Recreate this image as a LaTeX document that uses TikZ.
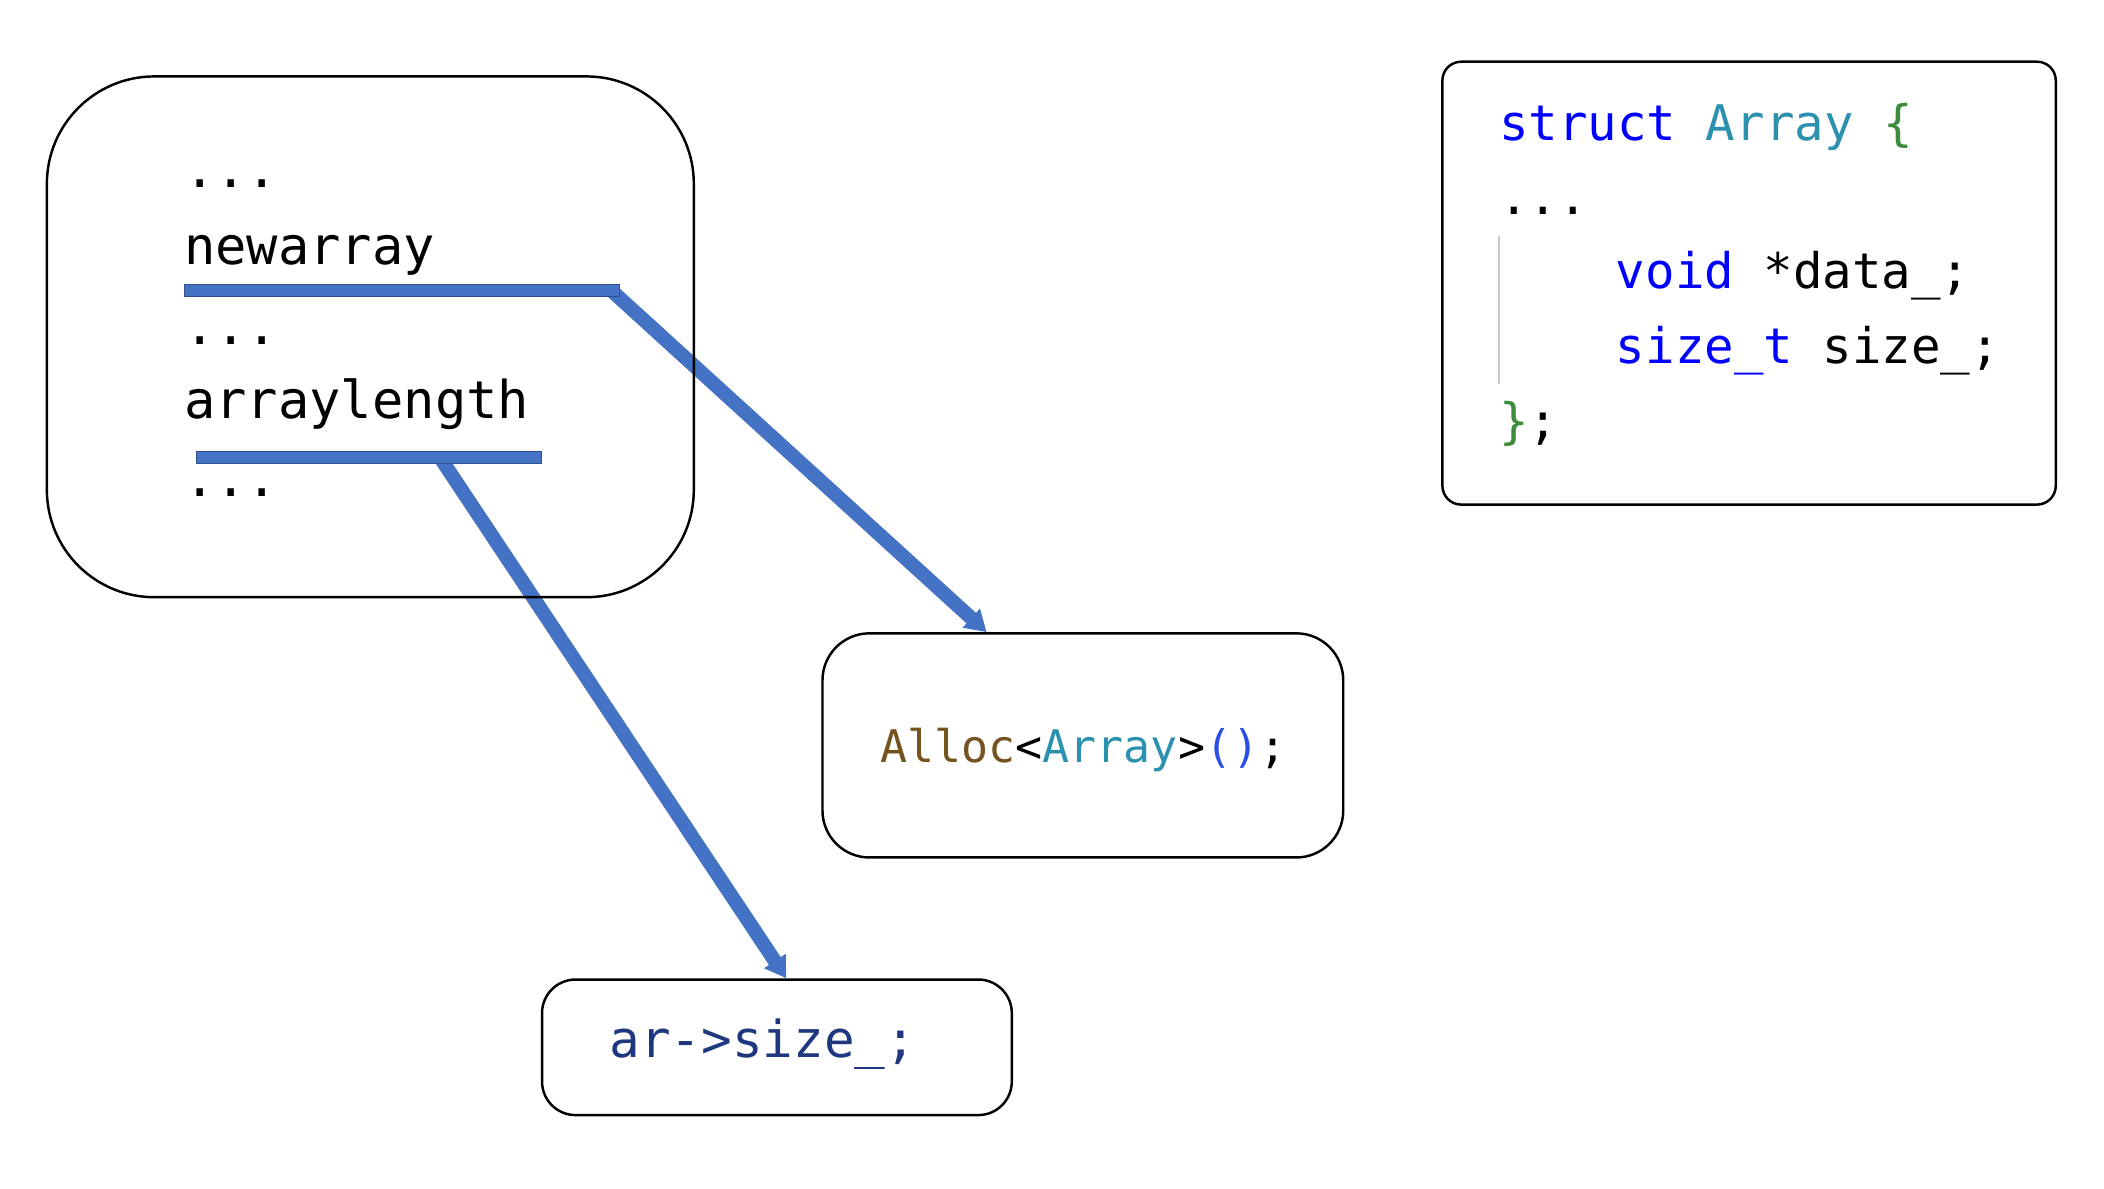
\documentclass[tikz,border=0pt]{standalone}
\usepackage{fontspec}
\newfontfamily\codefont{DejaVu Sans Mono}
\usetikzlibrary{arrows.meta,calc}
\definecolor{kwblue}{RGB}{0,0,255}
\definecolor{typeteal}{RGB}{43,145,175}
\definecolor{bracegreen}{RGB}{60,140,60}
\definecolor{fnbrown}{RGB}{116,83,31}
\definecolor{parenblue}{RGB}{40,80,230}
\definecolor{varnavy}{RGB}{31,55,127}
\definecolor{barblue}{RGB}{68,114,196}
\definecolor{baredge}{RGB}{47,82,143}
\definecolor{guide}{RGB}{200,200,200}
\pgfdeclarelayer{bg}
\pgfsetlayers{bg,main}
\begin{document}
\begin{tikzpicture}[x=0.025cm,y=-0.025cm,
  box/.style={draw=black,line width=1.3pt,inner sep=0pt},
  code/.style={anchor=base west,inner sep=0pt,text=black},
  srccode/.style={code,font={\codefont\fontsize{27.6}{32}\selectfont}},
  structcode/.style={code,font={\codefont\fontsize{26}{30}\selectfont}},
  alloccode/.style={code,font={\codefont\fontsize{23.8}{28}\selectfont}},
  sizecode/.style={code,font={\codefont\fontsize{27}{31}\selectfont}},
  bar/.style={draw=baredge,line width=0.8pt,fill=barblue,inner sep=0pt,minimum height=0.225cm,anchor=north west},
  link/.style={draw=barblue,line width=7.5pt,-{Triangle[width=13pt,length=11pt]}}
]
\useasboundingbox (0,0) rectangle (1568,885.4);

% boxes
\node[box,rounded corners=2cm,minimum width=12.05cm,minimum height=9.7cm] (src) at (276,251) {};
\node[box,rounded corners=0.875cm,minimum width=9.7cm,minimum height=4.175cm] (alloc) at (807,555.5) {};
\node[box,rounded corners=0.625cm,minimum width=8.75cm,minimum height=2.525cm] (sizebox) at (579,780.5) {};
\node[box,rounded corners=0.35cm,minimum width=11.425cm,minimum height=8.25cm] (structbox) at (1303.5,211) {};

% left code
\node[srccode] (d1) at (137,140) {...};
\node[srccode] (newarr) at (137,197) {newarray};
\node[srccode] (d2) at (137,257) {...};
\node[srccode] (arrlen) at (137,312) {arraylength};
\node[srccode] (d3) at (137,370) {...};

% highlight bars
\node[bar,minimum width=8.1cm] (bar1) at (137,211.5) {};
\node[bar,minimum width=6.425cm] (bar2) at (146,336) {};

% connectors (under the bars)
\begin{pgfonlayer}{bg}
\draw[link] ($(bar1.west)!0.98!(bar1.east)$) -- ($(alloc.north west)!0.316!(alloc.north east)$);
\draw[link] ($(bar2.west)!0.705!(bar2.east)$) -- ($(sizebox.north west)!0.52!(sizebox.north east)$);
\end{pgfonlayer}

% target texts
\node[alloccode] (alloctext) at (656,568) {{\color{fnbrown}Alloc}<{\color{typeteal}Array}>{\color{parenblue}()};};
\node[sizecode,text=varnavy] (sizetext) at (454,788) {ar->size\_;};

% struct code
\draw[guide,line width=1.4pt] (1117,176) -- (1117,286);
\node[structcode] (s1) at (1117,105) {{\color{kwblue}struct} {\color{typeteal}Array} {\color{bracegreen}\{}};
\node[structcode] (s2) at (1117,160) {...};
\node[structcode] (s3) at (1204,215) {{\color{kwblue}void} *data\_;};
\node[structcode] (s4) at (1204,271) {{\color{kwblue}size\_t} size\_;};
\node[structcode] (s5) at (1117,327) {{\color{bracegreen}\}};};
\end{tikzpicture}
\end{document}
